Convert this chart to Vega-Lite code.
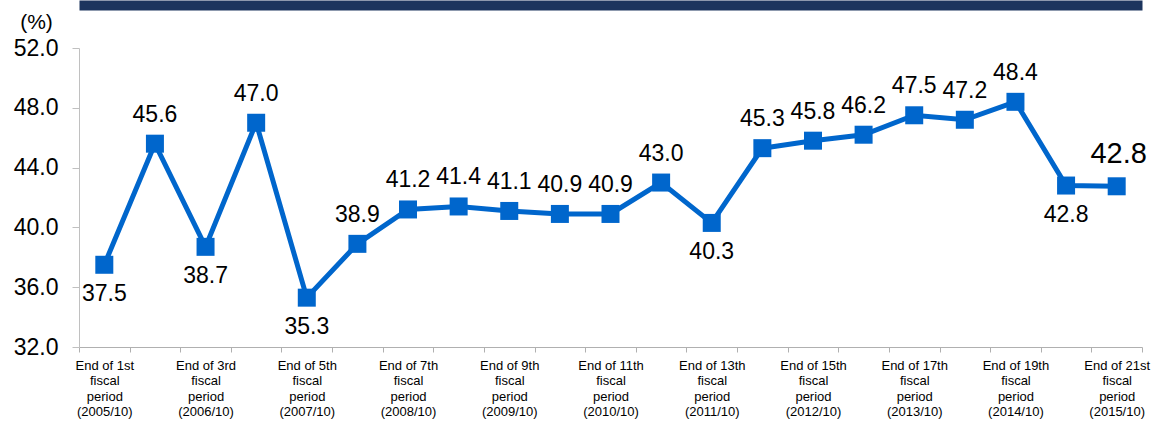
{
  "$schema": "https://vega.github.io/schema/vega-lite/v6.json",
  "width": 1063,
  "height": 299,
  "autosize": {"type": "none"},
  "padding": {"left": 79, "top": 48, "right": 12, "bottom": 74},
  "background": "white",
  "config": {
    "view": {"stroke": null},
    "font": "Liberation Sans",
    "text": {"font": "Liberation Sans"}
  },
  "data": {
    "values": [
      {"idx": 1, "value": 37.5, "label": "37.5"},
      {"idx": 2, "value": 45.6, "label": "45.6"},
      {"idx": 3, "value": 38.7, "label": "38.7"},
      {"idx": 4, "value": 47.0, "label": "47.0"},
      {"idx": 5, "value": 35.3, "label": "35.3"},
      {"idx": 6, "value": 38.9, "label": "38.9"},
      {"idx": 7, "value": 41.2, "label": "41.2"},
      {"idx": 8, "value": 41.4, "label": "41.4"},
      {"idx": 9, "value": 41.1, "label": "41.1"},
      {"idx": 10, "value": 40.9, "label": "40.9"},
      {"idx": 11, "value": 40.9, "label": "40.9"},
      {"idx": 12, "value": 43.0, "label": "43.0"},
      {"idx": 13, "value": 40.3, "label": "40.3"},
      {"idx": 14, "value": 45.3, "label": "45.3"},
      {"idx": 15, "value": 45.8, "label": "45.8"},
      {"idx": 16, "value": 46.2, "label": "46.2"},
      {"idx": 17, "value": 47.5, "label": "47.5"},
      {"idx": 18, "value": 47.2, "label": "47.2"},
      {"idx": 19, "value": 48.4, "label": "48.4"},
      {"idx": 20, "value": 42.8, "label": "42.8"},
      {"idx": 21, "value": 42.75, "label": "42.8"}
    ]
  },
  "encoding": {
    "x": {"field": "idx", "type": "ordinal", "scale": {"paddingInner": 0, "paddingOuter": 0}},
    "y": {"field": "value", "type": "quantitative", "scale": {"domain": [32, 52], "nice": false, "zero": false}}
  },
  "layer": [
    {
      "mark": {"type": "line", "color": "#0066cc", "strokeWidth": 5,
        "point": {"shape": "square", "size": 324, "filled": true, "color": "#0066cc", "opacity": 1}},
      "encoding": {
        "x": {"field": "idx", "type": "ordinal",
          "axis": {
            "title": null,
            "labelAngle": 0,
            "tickBand": "extent",
            "domainColor": "#b0b0b0",
            "tickColor": "#b0b0b0",
            "tickSize": 5,
            "labelPadding": 7,
            "labelFont": "Liberation Sans",
            "labelFontSize": 13,
            "labelColor": "#000000",
            "labelLineHeight": 15.5,
            "labelBaseline": "top",
            "labelOverlap": false,
            "labelBound": false,
            "labelExpr": "datum.value % 2 == 1 ? ['End of ' + datum.value + (datum.value == 1 || datum.value == 21 ? 'st' : datum.value == 3 ? 'rd' : 'th'), 'fiscal', 'period', '(' + (2004 + (datum.value + 1) / 2) + '/10)'] : ''"
          }},
        "y": {"field": "value", "type": "quantitative",
          "axis": {
            "values": [32, 36, 40, 44, 48, 52],
            "format": ".1f",
            "grid": false,
            "domainColor": "#c0c0c0",
            "tickColor": "#c0c0c0",
            "tickSize": 7,
            "labelPadding": 14,
            "labelFont": "Liberation Sans",
            "labelFontSize": 23,
            "labelColor": "#000000",
            "title": "(%)",
            "titleAngle": 0,
            "titleFont": "Liberation Sans",
            "titleFontSize": 21,
            "titleFontWeight": "normal",
            "titleColor": "#000000",
            "titleAlign": "center",
            "titleBaseline": "middle",
            "titleX": -43,
            "titleY": -26
          }}
      }
    },
    {
      "transform": [{"filter": {"not": {"field": "idx", "oneOf": [1, 3, 5, 13, 20, 21]}}}],
      "mark": {"type": "text", "fontSize": 23, "dy": -29, "baseline": "middle", "color": "#000000"},
      "encoding": {"text": {"field": "label"}, "x": {"field": "idx", "type": "ordinal", "axis": null}}
    },
    {
      "transform": [{"filter": {"field": "idx", "oneOf": [1, 3, 5, 13, 20]}}],
      "mark": {"type": "text", "fontSize": 23, "dy": 29, "baseline": "middle", "color": "#000000"},
      "encoding": {"text": {"field": "label"}, "x": {"field": "idx", "type": "ordinal", "axis": null}}
    },
    {
      "transform": [{"filter": {"field": "idx", "equal": 21}}],
      "mark": {"type": "text", "fontSize": 29, "dy": -32, "dx": 2, "baseline": "middle", "color": "#000000"},
      "encoding": {"text": {"field": "label"},
        "x": {"field": "idx", "type": "ordinal",
          "axis": {"orient": "top", "labels": false, "ticks": false, "title": null, "offset": 43,
            "domainColor": "#1c355e", "domainWidth": 10}}}
    }
  ],
  "resolve": {"axis": {"x": "independent"}}
}
